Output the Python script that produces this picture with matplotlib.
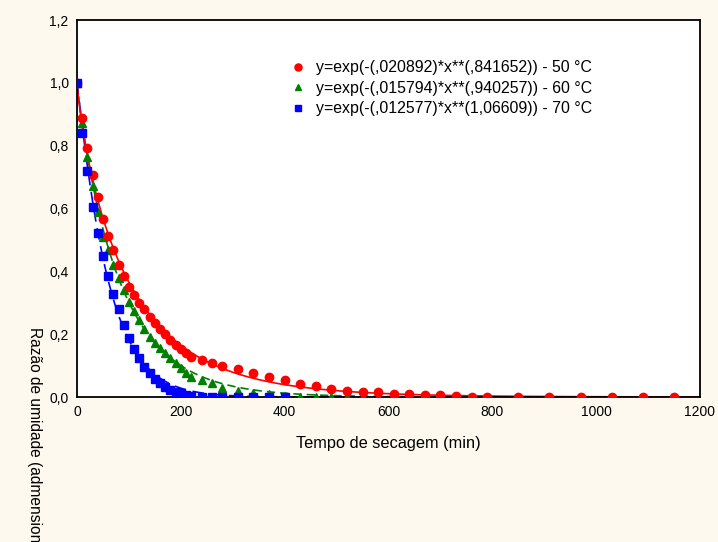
import numpy as np
import matplotlib
matplotlib.use("Agg")
import matplotlib.pyplot as plt
from matplotlib.ticker import FuncFormatter

plt.rcParams['font.family'] = ['Liberation Sans', 'DejaVu Sans']
plt.rcParams['font.size'] = 10

# Drying time (min) and moisture ratio readings
t_full = [0, 10, 20, 30, 40, 50, 60, 70, 80, 90, 100, 110, 120, 130, 140, 150,
          160, 170, 180, 190, 200, 210, 220, 240, 260, 280, 310, 340, 370, 400,
          430, 460, 490, 520, 550, 580, 610, 640, 670, 700, 730, 760, 790,
          850, 910, 970, 1030, 1090, 1150]
mr_50 = [1.0, 0.889, 0.793, 0.707, 0.636, 0.566, 0.513, 0.468, 0.420, 0.385,
         0.351, 0.325, 0.298, 0.279, 0.256, 0.237, 0.217, 0.201, 0.182, 0.166,
         0.152, 0.141, 0.128, 0.118, 0.108, 0.099, 0.088, 0.077, 0.065, 0.054,
         0.041, 0.035, 0.025, 0.020, 0.015, 0.015, 0.011, 0.010, 0.006, 0.006,
         0.002, 0.001, 0.001, 0.0, 0.0, 0.0, 0.0, 0.0, 0.0]

t_60 = t_full[:38]
mr_60 = [1.0, 0.871, 0.763, 0.672, 0.588, 0.510, 0.468, 0.420, 0.378, 0.341,
         0.304, 0.275, 0.245, 0.216, 0.192, 0.173, 0.155, 0.139, 0.123, 0.107,
         0.093, 0.077, 0.063, 0.054, 0.046, 0.028, 0.020, 0.014, 0.010, 0.004,
         0.001, 0.0, 0.0, 0.0, 0.0, 0.0, 0.0, 0.0]

t_70 = t_full[:30]
mr_70 = [1.0, 0.840, 0.720, 0.606, 0.523, 0.449, 0.385, 0.328, 0.279, 0.229,
         0.187, 0.152, 0.123, 0.095, 0.075, 0.056, 0.044, 0.033, 0.022, 0.016,
         0.012, 0.006, 0.003, 0.001, 0.0, 0.0, 0.0, 0.0, 0.0, 0.0]

# Weibull fit parameters shown in the legend: y = exp(-k * x**n)
k_50, n_50 = 0.020892, 0.841652
k_60, n_60 = 0.015794, 0.940257
k_70, n_70 = 0.012577, 1.06609

labels = ["y=exp(-(,020892)*x**(,841652)) - 50 °C",
          "y=exp(-(,015794)*x**(,940257)) - 60 °C",
          "y=exp(-(,012577)*x**(1,06609)) - 70 °C"]

fig = plt.figure(figsize=(7.18, 5.42), dpi=100, facecolor='#fdf9ef')
ax = fig.add_axes([0.1072, 0.2675, 0.8677, 0.6955])
ax.set_facecolor('white')

x = np.linspace(0, 1200, 600)
ax.plot(x, np.exp(-k_60 * x ** n_60), color='green', lw=1.2, dashes=(5, 3), zorder=2)
ax.plot(x, np.exp(-k_70 * x ** n_70), color='blue', lw=1.2, dashes=(7, 4), zorder=2)
ax.plot(x, np.exp(-k_50 * x ** n_50), color='red', lw=1.2, zorder=2)

ax.plot(t_full, mr_50, 'o', color='red', ms=6, ls='none', label=labels[0], zorder=4)
ax.plot(t_60, mr_60, '^', color='green', ms=5.7, ls='none', label=labels[1], zorder=3)
ax.plot(t_70, mr_70, 's', color='blue', ms=5.5, ls='none', label=labels[2], zorder=5)

ax.set_xlim(0, 1200)
ax.set_ylim(0, 1.2)
ax.set_xticks(np.arange(0, 1201, 200))
ax.set_yticks(np.arange(0, 1.21, 0.2))
ax.yaxis.set_major_formatter(FuncFormatter(lambda v, p: f"{v:.1f}".replace('.', ',')))
ax.tick_params(length=0, pad=6, labelsize=10)
for s in ax.spines.values():
    s.set_linewidth(1.3)

ax.set_xlabel("Tempo de secagem (min)", labelpad=12, fontsize=11.8)
fig.text(0.048, 1 - 327 / 542, "Razão de umidade (admensional)", rotation=-90,
         ha='center', va='top', fontsize=11.2)

leg = ax.legend(loc='upper left', bbox_to_anchor=(0.342, 0.893), frameon=False,
                borderaxespad=0, borderpad=0, handlelength=1, handletextpad=0.65,
                labelspacing=0.34, fontsize=11.4, markerscale=0.85)

fig.savefig("out.png", dpi=100, facecolor=fig.get_facecolor())
